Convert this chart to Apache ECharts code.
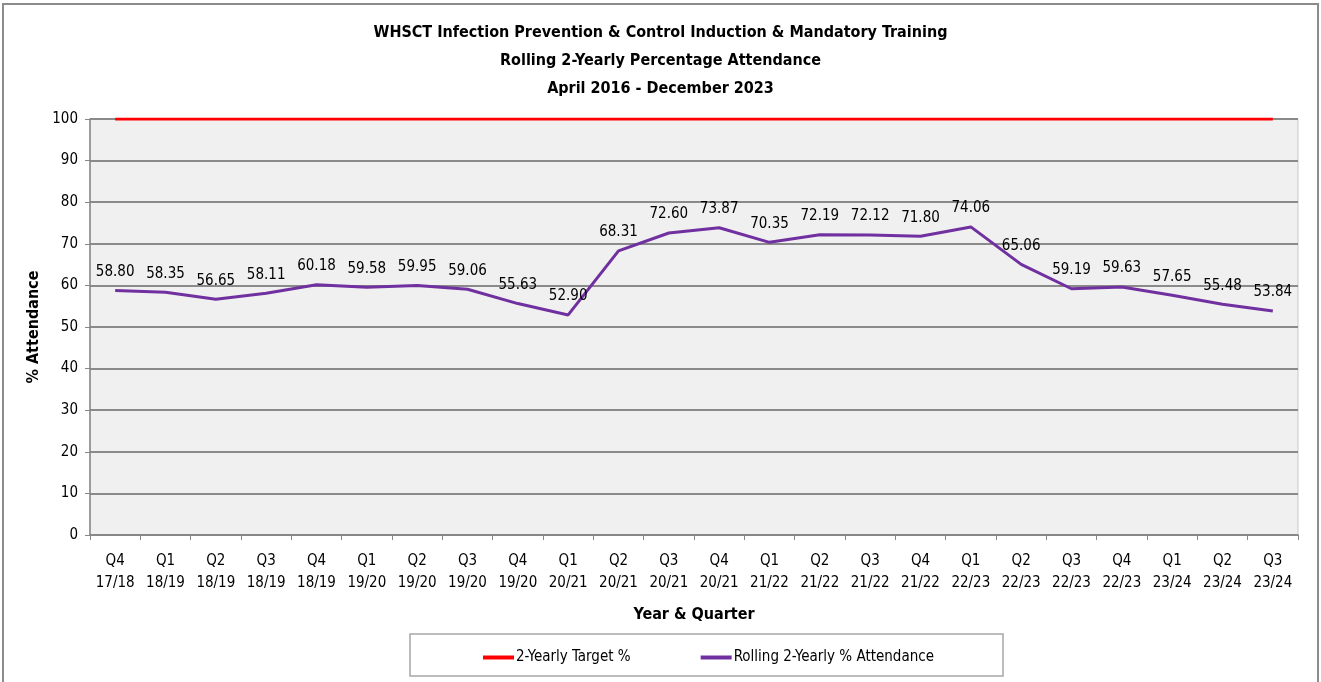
<!DOCTYPE html>
<html>
<head>
<meta charset="utf-8">
<style>
  html, body { margin: 0; padding: 0; background: #fff; }
  #chart { width: 1321px; height: 682px; }
</style>
<script src="https://cdn.jsdelivr.net/npm/echarts@6/dist/echarts.min.js"></script>
</head>
<body>
<div id="chart"></div>
<script>
const FONT = '"Liberation Sans Narrow", "DejaVu Sans Condensed", "Open Sans", sans-serif';

const quarters = [
  "Q4\n17/18", "Q1\n18/19", "Q2\n18/19", "Q3\n18/19", "Q4\n18/19", "Q1\n19/20",
  "Q2\n19/20", "Q3\n19/20", "Q4\n19/20", "Q1\n20/21", "Q2\n20/21", "Q3\n20/21",
  "Q4\n20/21", "Q1\n21/22", "Q2\n21/22", "Q3\n21/22", "Q4\n21/22", "Q1\n22/23",
  "Q2\n22/23", "Q3\n22/23", "Q4\n22/23", "Q1\n23/24", "Q2\n23/24", "Q3\n23/24"
];
const attendance = [
  58.80, 58.35, 56.65, 58.11, 60.18, 59.58, 59.95, 59.06, 55.63, 52.90, 68.31, 72.60,
  73.87, 70.35, 72.19, 72.12, 71.80, 74.06, 65.06, 59.19, 59.63, 57.65, 55.48, 53.84
];
const target = quarters.map(() => 100);
const yTicks = { min: 0, max: 100, interval: 10 };

const chart = echarts.init(document.getElementById("chart"));

chart.setOption({
  backgroundColor: "#fff",
  textStyle: { fontFamily: FONT },
  title: {
    text: "WHSCT Infection Prevention & Control Induction & Mandatory Training\nRolling 2-Yearly Percentage Attendance\nApril 2016 - December 2023",
    left: "center",
    top: 14,
    textStyle: { fontFamily: FONT, fontSize: 16, fontWeight: "bold", color: "#000", lineHeight: 28 }
  },
  graphic: [
    {
      type: "rect",
      shape: { x: 3, y: 4, width: 1315, height: 700 },
      style: { fill: null, stroke: "#8c8c8c", lineWidth: 2 },
      silent: true
    },
    {
      type: "rect",
      shape: { x: 410, y: 634, width: 593, height: 42 },
      style: { fill: "#fff", stroke: "#a6a6a6", lineWidth: 1.5 },
      silent: true,
      z: -1
    }
  ],
  legend: {
    left: 478,
    top: 645,
    itemGap: 70,
    itemWidth: 31,
    itemHeight: 4,
    icon: "rect",
    textStyle: { fontFamily: FONT, fontSize: 15, color: "#000", padding: [0, 0, 0, -3] },
    data: ["2-Yearly Target %", "Rolling 2-Yearly % Attendance"]
  },
  grid: {
    left: 90,
    right: 23,
    top: 119,
    bottom: 147,
    show: true,
    backgroundColor: "#f0f0f0",
    borderColor: "#c8c8c8",
    borderWidth: 1
  },
  xAxis: {
    type: "category",
    data: quarters,
    boundaryGap: true,
    name: "Year & Quarter",
    nameLocation: "middle",
    nameGap: 72,
    nameTextStyle: { fontFamily: FONT, fontSize: 16, fontWeight: "bold", color: "#000" },
    axisLine: { show: true, lineStyle: { color: "#868686", width: 1.5 } },
    axisTick: { show: true, length: 5, lineStyle: { color: "#868686" } },
    axisLabel: { fontFamily: FONT, fontSize: 15, color: "#000", lineHeight: 22, margin: 15, interval: 0 },
    splitLine: { show: false }
  },
  yAxis: {
    type: "value",
    min: yTicks.min,
    max: yTicks.max,
    interval: yTicks.interval,
    name: "% Attendance",
    nameLocation: "middle",
    nameGap: 48,
    nameTextStyle: { fontFamily: FONT, fontSize: 16, fontWeight: "bold", color: "#000" },
    axisLine: { show: true, lineStyle: { color: "#868686", width: 1.5 } },
    axisTick: { show: true, length: 5, lineStyle: { color: "#868686" } },
    axisLabel: { fontFamily: FONT, fontSize: 15, color: "#000", margin: 12 },
    splitLine: { show: true, lineStyle: { color: "#8a8a8a", width: 2 } }
  },
  series: [
    {
      name: "2-Yearly Target %",
      type: "line",
      data: target,
      symbol: "none",
      color: "#ff0000",
      lineStyle: { color: "#ff0000", width: 3 },
      z: 3
    },
    {
      name: "Rolling 2-Yearly % Attendance",
      type: "line",
      data: attendance,
      symbol: "circle",
      symbolSize: 0,
      showSymbol: true,
      color: "#7030a0",
      itemStyle: { color: "#7030a0" },
      lineStyle: { color: "#7030a0", width: 3 },
      label: {
        show: true,
        position: "top",
        distance: 11,
        fontFamily: FONT,
        fontSize: 15,
        color: "#000",
        formatter: (p) => p.value.toFixed(2)
      },
      z: 4
    }
  ]
});
</script>
</body>
</html>
